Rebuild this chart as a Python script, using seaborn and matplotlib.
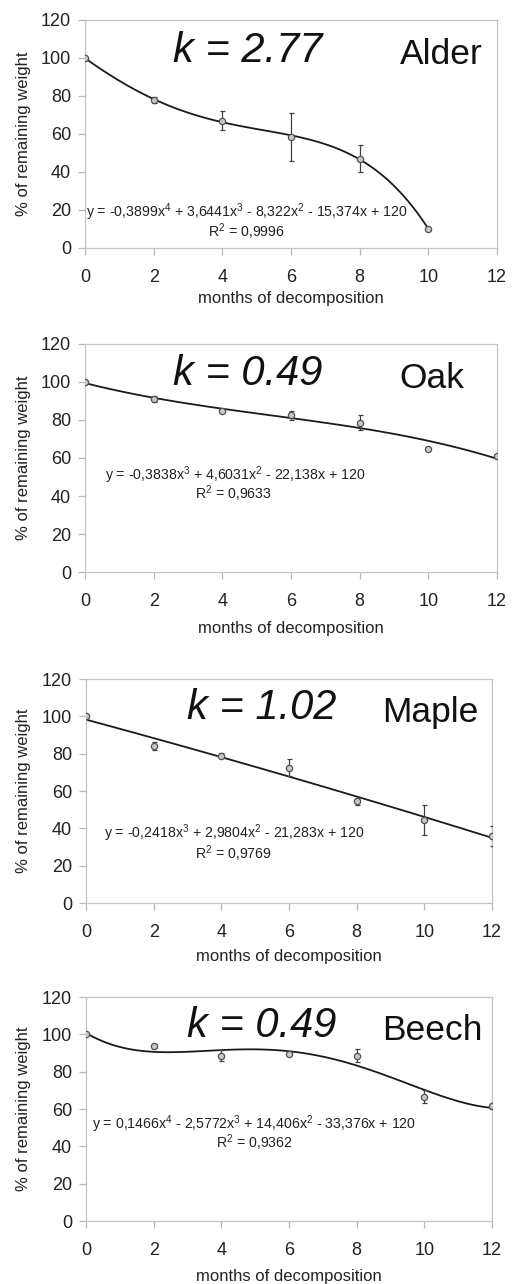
import numpy as np
import pandas as pd
import matplotlib
matplotlib.use("Agg")
import matplotlib.pyplot as plt
import seaborn as sns

# ---------------- data ----------------
species = ["Alder", "Oak", "Maple", "Beech"]
k_values = ["2.77", "0.49", "1.02", "0.49"]
fit_orders = [4, 3, 3, 4]

alder_months = [0, 2, 4, 6, 8, 10]
alder_weight = [100, 78, 67, 58.5, 47, 10]
alder_err = [0, 1.5, 5, 12.5, 7, 0]

oak_months = [0, 2, 4, 6, 8, 10, 12]
oak_weight = [100, 91, 84.5, 82.5, 78.5, 65, 61]
oak_err = [0, 1.5, 0.5, 2.5, 4, 0, 0]

maple_months = [0, 2, 4, 6, 8, 10, 12]
maple_weight = [100, 84, 79, 72.5, 54.5, 44.5, 36]
maple_err = [0, 2, 1.5, 4.5, 2, 8, 5.5]

beech_months = [0, 2, 4, 6, 8, 10, 12]
beech_weight = [100, 93.5, 88.5, 89.5, 88.5, 66.5, 61.5]
beech_err = [0, 1, 3, 0.5, 3.5, 3.5, 1.5]

equations = [
    r"y = -0,3899x$\mathregular{^4}$ + 3,6441x$\mathregular{^3}$ - 8,322x$\mathregular{^2}$ - 15,374x + 120",
    r"y = -0,3838x$\mathregular{^3}$ + 4,6031x$\mathregular{^2}$ - 22,138x + 120",
    r"y = -0,2418x$\mathregular{^3}$ + 2,9804x$\mathregular{^2}$ - 21,283x + 120",
    r"y = 0,1466x$\mathregular{^4}$ - 2,5772x$\mathregular{^3}$ + 14,406x$\mathregular{^2}$ - 33,376x + 120",
]
r_squared = [r"R$\mathregular{^2}$ = 0,9996", r"R$\mathregular{^2}$ = 0,9633",
             r"R$\mathregular{^2}$ = 0,9769", r"R$\mathregular{^2}$ = 0,9362"]

x_ticks = [0, 2, 4, 6, 8, 10, 12]
y_ticks = [0, 20, 40, 60, 80, 100, 120]
x_label = "months of decomposition"
y_label = "% of remaining weight"

datasets = [
    (alder_months, alder_weight, alder_err),
    (oak_months, oak_weight, oak_err),
    (maple_months, maple_weight, maple_err),
    (beech_months, beech_weight, beech_err),
]

# ---------------- style ----------------
sns.set_style("ticks")
plt.rcParams["font.family"] = ["Liberation Sans", "DejaVu Sans"]
plt.rcParams["mathtext.fontset"] = "custom"
plt.rcParams["mathtext.rm"] = "Liberation Sans"

W, H = 515, 1284
fig = plt.figure(figsize=(W / 100, H / 100), dpi=100)

# axes boxes in pixels: left, top, right, bottom
boxes = [(85, 20, 497, 248), (85, 344, 497, 572), (86, 679, 492, 903), (86, 997, 492, 1221)]
xlabel_y = [299, 628, 956, 1277]
k_pos = [(0.396, 0.816), (0.396, 0.82), (0.433, 0.82), (0.433, 0.82)]
name_pos = [(0.866, 0.807), (0.843, 0.807), (0.847, 0.81), (0.852, 0.81)]
eq_pos = [(0.393, 0.158), (0.364, 0.425), (0.364, 0.31), (0.414, 0.433)]
r2_pos = [(0.393, 0.07), (0.36, 0.342), (0.363, 0.22), (0.414, 0.348)]

spine_col = "#c4c4c4"

for i, (mx, wy, er) in enumerate(datasets):
    l, t, r, b = boxes[i]
    ax = fig.add_axes([l / W, (H - b) / H, (r - l) / W, (b - t) / H])
    df = pd.DataFrame({"month": mx, "weight": wy, "err": er})

    sns.regplot(data=df, x="month", y="weight", order=fit_orders[i], ci=None,
                scatter=False, truncate=True, ax=ax,
                line_kws=dict(color="#1a1a1a", lw=1.3, zorder=2))
    ax.errorbar(df["month"], df["weight"], yerr=df["err"], fmt="o",
                ms=4.5, mfc="#c8c8c8", mec="#505050", mew=0.9,
                ecolor="#404040", elinewidth=0.9, capsize=1.8, capthick=0.9,
                zorder=3)

    ax.set_xlim(0, 12)
    ax.set_ylim(0, 120)
    ax.set_xticks(x_ticks)
    ax.set_yticks(y_ticks)
    ax.tick_params(axis="both", direction="out", length=5, width=0.9,
                   color="#b8b8b8", labelsize=13, labelcolor="#222222")
    ax.tick_params(axis="x", pad=10)
    ax.tick_params(axis="y", pad=5)
    for s in ax.spines.values():
        s.set_visible(True)
        s.set_color(spine_col)
        s.set_linewidth(0.9)

    ax.set_xlabel(x_label, fontsize=12, color="#222222", va="center")
    ax.set_ylabel(y_label, fontsize=12, color="#222222", va="center")
    ax.xaxis.set_label_coords(0.5, (b - xlabel_y[i]) / (b - t))
    ax.yaxis.set_label_coords((24 - l) / (r - l), 0.5)

    ax.text(*k_pos[i], "k = " + k_values[i], transform=ax.transAxes, fontsize=30,
            fontstyle="italic", ha="center", va="baseline", color="#111111")
    ax.text(*name_pos[i], species[i], transform=ax.transAxes, fontsize=25.5,
            ha="center", va="baseline", color="#111111")
    ax.text(*eq_pos[i], equations[i], transform=ax.transAxes, fontsize=10.2,
            ha="center", va="center", color="#222222")
    ax.text(*r2_pos[i], r_squared[i], transform=ax.transAxes, fontsize=10.2,
            ha="center", va="center", color="#222222")

fig.savefig("out.png", dpi=100, facecolor="white")
